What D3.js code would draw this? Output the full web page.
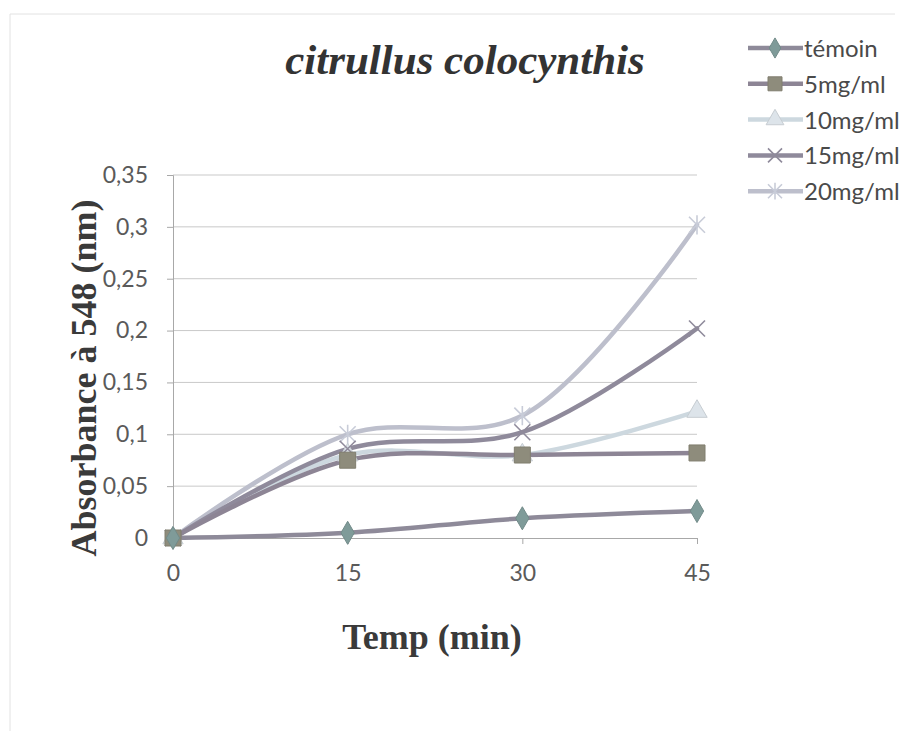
<!DOCTYPE html>
<html>
<head>
<meta charset="utf-8">
<script src="https://cdn.jsdelivr.net/npm/d3@7"></script>
<style>
  body { margin: 0; background: #fff; }
  svg { display: block; }
</style>
</head>
<body>
<script>
// values
var times = [0, 15, 30, 45];
var temoin = [0, 0.005, 0.019, 0.026];
var mg5 = [0, 0.075, 0.08, 0.082];
var mg10 = [0, 0.08, 0.08, 0.122];
var mg15 = [0, 0.086, 0.102, 0.202];
var mg20 = [0, 0.1, 0.118, 0.302];
var seriesNames = ["témoin", "5mg/ml", "10mg/ml", "15mg/ml", "20mg/ml"];
var yTicks = [0, 0.05, 0.1, 0.15, 0.2, 0.25, 0.3, 0.35];

var styles = [
  {line: "#8e8a99", marker: "#7f9b99", shape: "diamond"},
  {line: "#8d8595", marker: "#8e8c7c", shape: "square"},
  {line: "#cdd8df", marker: "#dde4ea", shape: "triangle"},
  {line: "#8f8a9b", marker: "#8f8a9b", shape: "x"},
  {line: "#bdbfcc", marker: "#c8ccd8", shape: "star"}
];

var allSeries = [temoin, mg5, mg10, mg15, mg20].map(function(vals, i){
  return {name: seriesNames[i], values: vals, style: styles[i]};
});

var W = 906, H = 731;
var margin = {top: 175, right: 209, bottom: 193, left: 173};

var svg = d3.select("body").append("svg")
    .attr("width", W)
    .attr("height", H);

// faint scanned frame
svg.append("path")
   .attr("d", "M10,731 L10,14 L895,14")
   .attr("fill", "none")
   .attr("stroke", "#e2e2e2")
   .attr("stroke-width", 1);

var x = d3.scaleLinear().domain([0, 45]).range([margin.left, W - margin.right]);
var y = d3.scaleLinear().domain([0, 0.35]).range([H - margin.bottom, margin.top]);

var fmt = function(d){ return d === 0 ? "0" : String(d).replace(".", ","); };

// gridlines
svg.append("g")
   .selectAll("line")
   .data(yTicks.slice(1))
   .enter()
   .append("line")
   .attr("x1", x(0))
   .attr("x2", x(45))
   .attr("y1", function(d){ return y(d); })
   .attr("y2", function(d){ return y(d); })
   .attr("stroke", "#c9c9c9")
   .attr("stroke-width", 1);

// y axis
var yAxis = svg.append("g")
   .attr("transform", "translate(" + x(0) + ",0)")
   .call(d3.axisLeft(y).tickValues(yTicks).tickFormat(fmt).tickSize(6).tickPadding(19));

// x axis
var xAxis = svg.append("g")
   .attr("transform", "translate(0," + y(0) + ")")
   .call(d3.axisBottom(x).tickValues(times).tickSize(6).tickPadding(21));

[yAxis, xAxis].forEach(function(ax){
  ax.select(".domain").attr("stroke", "#a8a8a8");
  ax.selectAll(".tick line").attr("stroke", "#a8a8a8");
  ax.selectAll(".tick text")
    .attr("fill", "#5a5a5a")
    .style("font-family", "Lato, 'Open Sans', sans-serif")
    .style("font-size", "23px");
});
xAxis.selectAll(".tick").filter(function(d){ return d === 0; }).select("line").remove();

// series lines
var line = d3.line()
    .x(function(d, i){ return x(times[i]); })
    .y(function(d){ return y(d); })
    .curve(d3.curveCatmullRom.alpha(0.5));

function drawMarker(g, shape, color, size){
  if(shape === "x" || shape === "star"){
    var s = size;
    g.append("path")
     .attr("d", "M" + (-s) + "," + (-s) + "L" + s + "," + s + "M" + (-s) + "," + s + "L" + s + "," + (-s) +
        (shape === "star" ? "M0," + (-s*1.2) + "L0," + (s*1.2) : ""))
     .attr("stroke", color)
     .attr("stroke-width", 1.6)
     .attr("fill", "none");
  } else {
    var sym = shape === "diamond" ? d3.symbolDiamond : shape === "square" ? d3.symbolSquare : d3.symbolTriangle;
    var area = shape === "diamond" ? size*size*2.4 : shape === "square" ? size*size*4 : size*size*2.8;
    g.append("path")
     .attr("d", d3.symbol().type(sym).size(area)())
     .attr("fill", color)
     .attr("stroke", d3.color(color).darker(0.3))
     .attr("stroke-width", 1);
  }
}

var plot = svg.append("g");
// draw light series first so dark ones sit on top like in the picture
var order = [4, 2, 3, 1, 0];
order.forEach(function(k){
  var s = allSeries[k];
  plot.append("path")
      .datum(s.values)
      .attr("d", line)
      .attr("fill", "none")
      .attr("stroke", s.style.line)
      .attr("stroke-width", 4.5)
      .attr("stroke-linecap", "round");
});
order.forEach(function(k){
  var s = allSeries[k];
  s.values.forEach(function(v, i){
    var g = plot.append("g").attr("transform", "translate(" + x(times[i]) + "," + y(v) + ")");
    drawMarker(g, s.style.shape, s.style.marker, 8);
  });
});

// title
svg.append("text")
   .attr("x", 465)
   .attr("y", 74)
   .attr("text-anchor", "middle")
   .style("font-family", "'Liberation Serif', 'DejaVu Serif', serif")
   .style("font-style", "italic")
   .style("font-weight", "bold")
   .style("font-size", "43px")
   .attr("fill", "#333")
   .text("citrullus colocynthis");

// axis titles
svg.append("text")
   .attr("transform", "translate(96,378) rotate(-90)")
   .attr("text-anchor", "middle")
   .style("font-family", "'Liberation Serif', 'DejaVu Serif', serif")
   .style("font-weight", "bold")
   .style("font-size", "36px")
   .attr("fill", "#3a3a3a")
   .text("Absorbance  à 548 (nm)");

svg.append("text")
   .attr("x", 432)
   .attr("y", 649)
   .attr("text-anchor", "middle")
   .style("font-family", "'Liberation Serif', 'DejaVu Serif', serif")
   .style("font-weight", "bold")
   .style("font-size", "36px")
   .attr("fill", "#3a3a3a")
   .text("Temp (min)");

// legend
var legend = svg.append("g");
allSeries.forEach(function(s, i){
  var ly = 48 + i*35.8;
  var item = legend.append("g").attr("transform", "translate(0," + ly + ")");
  item.append("line")
      .attr("x1", 748).attr("x2", 803)
      .attr("y1", 0).attr("y2", 0)
      .attr("stroke", s.style.line)
      .attr("stroke-width", 4.5);
  var m = item.append("g").attr("transform", "translate(775,0)");
  drawMarker(m, s.style.shape, s.style.marker, 7);
  item.append("text")
      .attr("x", 804)
      .attr("y", 9)
      .style("font-family", "Lato, 'Open Sans', sans-serif")
      .style("font-size", "24px")
      .attr("fill", "#4a4a4a")
      .text(s.name);
});
</script>
</body>
</html>
